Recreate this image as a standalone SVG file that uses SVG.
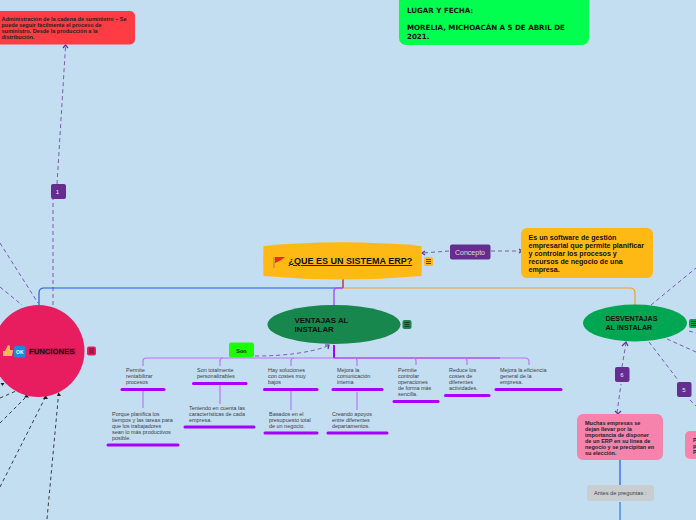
<svg xmlns="http://www.w3.org/2000/svg" width="696" height="520" viewBox="0 0 696 520">
<style>
text{font-family:"Liberation Sans",Arial,sans-serif}
.b{font-weight:bold;fill:#111;font-size:7.100px}
.b,.b text{font-family:"DejaVu Sans",sans-serif}
.s{font-size:5.450px;fill:#3a3f45}
.t{font-size:5.500px;font-weight:bold;fill:#222}
.dp{fill:none;stroke:#6a3c9c;stroke-width:1;stroke-dasharray:4 3;opacity:.8}
.dk{fill:none;stroke:#2a2a2a;stroke-width:.9;stroke-dasharray:3.500 3}
.lv{fill:none;stroke:#b57af5;stroke-width:1.200}
.bar{stroke:#a600ff;stroke-width:3;stroke-linecap:round}
.num{font-size:6px;fill:#eee;text-anchor:middle}
.ah{fill:none;stroke:#5f3295;stroke-width:1.200}
.ak{fill:#222}
.m{stroke:#222;stroke-width:.8;fill:none}
</style>
<rect width="696" height="520" fill="#c3ddf1"/>
<g id="connectors">
<path class="dp" d="M53 305V199M57 184L65.500 47"/>
<path class="ah" d="M63 48L65.500 45L68 48"/>
<path d="M39 305V293Q39 288 44 288H343" fill="none" stroke="#1b5ce8" stroke-width="1.200"/>
<path d="M343 288H630Q635 288 635 293V305" fill="none" stroke="#f0a030" stroke-width="1.200"/>
<path d="M343 279V288" stroke="#c4615a" stroke-width="2"/>
<path d="M334 305V291Q334 288 337 288H343" fill="none" stroke="#b057f0" stroke-width="1.500"/>
<path class="dp" d="M0 243L38 303M0 287L22 305"/>
<path class="dp" d="M449 251L423 253"/><path class="ah" d="M425 251L422 253L425 255"/>
<path class="dp" d="M491 251H521"/><path class="ah" d="M519 249L522 251L519 253"/>
<path class="dp" d="M255 356Q300 356 328 346"/><path class="ah" d="M325 345L329 345L328 349"/>
<path d="M334 345V358" stroke="#a600ff" stroke-width="2"/>
<path d="M143 366V361Q143 358 146 358H334" class="lv"/>
<path d="M334 358H500" stroke="#a600ff" stroke-width="1.200" fill="none"/>
<path d="M500 358H525Q529 358 529 362V365" class="lv"/>
<path class="lv" d="M220 366V361Q220 358 223 358M291 366V361Q291 358 294 358M357 366V361Q357 358 354 358M416 365V361Q416 358 413 358M467 365V361Q467 358 464 358"/>
<path class="lv" d="M143 391V408M220 385V404M291 391V410M357 392V410"/>
<path class="dp" d="M651 305L696 268M689 331L696 333M667 339L696 352M649 342L678 380M690 400L696 406"/>
<path class="dp" d="M617 413L621 384M622 367L626 343"/>
<path class="ah" d="M622 346L626 342L628 346M615 411L618 414L621 411"/>
<path d="M620 460V485" stroke="#1b5ce8" stroke-width="1.200"/><path d="M620 502V520" stroke="#1b5ce8" stroke-width="1"/>
<path class="dk" d="M0 398L16 391M0 423L25 398M0 487L45 398M47 519L58.500 395"/>
<path class="ak" d="M0.500 383L4.500 383L2.500 386ZM24 397.500L29 397.500L26.500 394ZM43 399L48 399L45.500 395ZM57 396L61 396L58.500 392Z"/>
</g>
<g id="node-lugar"><rect x="399" y="-10" width="190" height="55" rx="7" fill="#00ff4f"/>
<text x="407" y="13" class="b">LUGAR Y FECHA:</text>
<text x="407" y="30" class="b">MORELIA, MICHOACÁN A 5 DE ABRIL DE</text>
<text x="407" y="39" class="b">2021.</text></g>
<g id="node-admin"><rect x="-20" y="11" width="155" height="33.500" rx="5" fill="#ff3b44"/>
<text class="t" x="1.500" y="21">Administración de la cadena de suministro – Se</text>
<text class="t" x="1.500" y="27">puede seguir fácilmente el proceso de</text>
<text class="t" x="1.500" y="33">suministro. Desde la producción a la</text>
<text class="t" x="1.500" y="39">distribución.</text></g>
<g id="badge-1"><rect x="51" y="184" width="15" height="15" rx="2" fill="#662d91"/><text class="num" x="57.500" y="193.500">1</text></g>
<g id="node-root"><path d="M263.500 246Q342 238.500 421.500 246Q422 261 421.500 276Q342 283 263.500 276Q263 261 263.500 246Z" fill="#ffb914"/>
<path d="M274 257V268" stroke="#b08a50" stroke-width="1.200"/><path d="M275 257L285 257L281 260L275 263Z" fill="#f02818"/>
<text x="288.500" y="264" font-size="9" font-weight="bold" fill="#111" text-decoration="underline">¿QUE ES UN SISTEMA ERP?</text>
<rect x="424" y="257" width="9" height="9" rx="2" fill="#ffb914"/><path class="m" d="M426 259.500H431M426 261.500H431M426 263.500H431"/></g>
<g id="node-concepto"><rect x="450" y="244.500" width="40.500" height="15" rx="2" fill="#662d91"/><text x="455" y="254.500" font-size="7" fill="#ddd">Concepto</text></g>
<g id="node-def"><rect x="521" y="228" width="132" height="50" rx="6" fill="#ffb914"/>
<g font-size="7.100" font-weight="bold" fill="#111"><text x="528.500" y="240">Es un software de gestión</text><text x="528.500" y="248">empresarial que permite planificar</text><text x="528.500" y="256">y controlar los procesos y</text><text x="528.500" y="264">recursos de negocio de una</text><text x="528.500" y="272">empresa.</text></g></g>
<g id="node-funciones"><circle cx="38.500" cy="351" r="46" fill="#e71d5f"/>
<path d="M3 356V351H5L8 345L10 346V350H13L12 356Z" fill="#f7b955"/>
<rect x="14" y="346" width="11.500" height="11.500" rx="2" fill="#1e88e5"/><text x="19.800" y="354" font-size="5" font-weight="bold" fill="#fff" text-anchor="middle">OK</text>
<rect x="29" y="348" width="47" height="7" fill="#c41a50"/>
<text x="29" y="353.500" font-size="7.700" font-weight="bold" fill="#111">FUNCIONES</text>
<rect x="87" y="346.500" width="9" height="9" rx="2" fill="#e71d5f"/><path class="m" d="M89 349H94M89 351H94M89 353H94"/></g>
<g id="node-ventajas"><ellipse cx="334" cy="324.500" rx="66.500" ry="19.500" fill="#17874d"/>
<text x="294.500" y="323" font-size="7.900" font-weight="bold" fill="#111">VENTAJAS AL</text><text x="294.500" y="332" font-size="7.900" font-weight="bold" fill="#111">INSTALAR</text>
<rect x="402.500" y="320" width="9" height="9" rx="2" fill="#17874d"/><path class="m" d="M404.500 322.500H409.500M404.500 324.500H409.500M404.500 326.500H409.500"/></g>
<g id="node-desventajas"><ellipse cx="635" cy="323" rx="52" ry="18.500" fill="#00a651"/>
<text x="605.500" y="321" font-size="7.100" font-weight="bold" fill="#111">DESVENTAJAS</text><text x="605.500" y="330" font-size="7.100" font-weight="bold" fill="#111">AL INSTALAR</text>
<rect x="689" y="319" width="9" height="9" rx="2" fill="#00a651"/><path class="m" d="M691 321.500H696M691 323.500H696M691 325.500H696"/></g>
<g id="node-son"><rect x="229" y="342.500" width="25" height="15" rx="2" fill="#1aff00"/><text x="241.500" y="352.500" font-size="5.500" font-weight="bold" fill="#111" text-anchor="middle">Son</text></g>
<g id="v1"><text class="s" x="126" y="372">Permite</text><text class="s" x="126" y="378">rentabilizar</text><text class="s" x="126" y="384">procesos</text><path class="bar" d="M122 389.500H164"/></g>
<g id="v1b"><text class="s" x="112" y="416">Porque planifica los</text><text class="s" x="112" y="422">tiempos y las tareas para</text><text class="s" x="112" y="428">que los trabajadores</text><text class="s" x="112" y="434">sean lo más productivos</text><text class="s" x="112" y="440">posible.</text><path class="bar" d="M108 445H178"/></g>
<g id="v2"><text class="s" x="197" y="372">Son totalmente</text><text class="s" x="197" y="378">personalizables</text><path class="bar" d="M193.500 383.500H246"/></g>
<g id="v2b"><text class="s" x="189" y="410">Teniendo en cuenta las</text><text class="s" x="189" y="416">características de cada</text><text class="s" x="189" y="422">empresa.</text><path class="bar" d="M185 427H254"/></g>
<g id="v3"><text class="s" x="268" y="372">Hay soluciones</text><text class="s" x="268" y="378">con costes muy</text><text class="s" x="268" y="384">bajos</text><path class="bar" d="M264.500 389.500H317"/></g>
<g id="v3b"><text class="s" x="269" y="416">Basados en el</text><text class="s" x="269" y="422">presupuesto total</text><text class="s" x="269" y="428">de un negocio.</text><path class="bar" d="M265 433H317"/></g>
<g id="v4"><text class="s" x="337" y="372">Mejora la</text><text class="s" x="337" y="378">comunicación</text><text class="s" x="337" y="384">interna</text><path class="bar" d="M333 389.500H382"/></g>
<g id="v4b"><text class="s" x="332" y="416">Creando apoyos</text><text class="s" x="332" y="422">entre diferentes</text><text class="s" x="332" y="428">departamentos.</text><path class="bar" d="M328 433H387"/></g>
<g id="v5"><text class="s" x="398" y="372">Permite</text><text class="s" x="398" y="378">controlar</text><text class="s" x="398" y="384">operaciones</text><text class="s" x="398" y="390">de forma más</text><text class="s" x="398" y="396">sencilla.</text><path class="bar" d="M394 401.500H438"/></g>
<g id="v6"><text class="s" x="449" y="372">Reduce los</text><text class="s" x="449" y="378">costes de</text><text class="s" x="449" y="384">diferentes</text><text class="s" x="449" y="390">actividades.</text><path class="bar" d="M445.500 395.500H489"/></g>
<g id="v7"><text class="s" x="500" y="372">Mejora la eficiencia</text><text class="s" x="500" y="378">general de la</text><text class="s" x="500" y="384">empresa.</text><path class="bar" d="M496 389.500H561"/></g>
<g id="badge-6"><rect x="615" y="367" width="14.500" height="15" rx="2" fill="#662d91"/><text class="num" x="622" y="376.500">6</text></g>
<g id="badge-5"><rect x="677" y="382" width="14.500" height="15" rx="2" fill="#662d91"/><text class="num" x="684" y="391.500">5</text></g>
<g id="node-muchas"><rect x="577" y="414" width="86" height="46" rx="6" fill="#f782ac"/>
<text class="t" x="585" y="424.500">Muchas empresas se</text><text class="t" x="585" y="430.500">dejan llevar por la</text><text class="t" x="585" y="436.500">importancia de disponer</text><text class="t" x="585" y="442.500">de un ERP en su línea de</text><text class="t" x="585" y="448.500">negocio y se precipitan en</text><text class="t" x="585" y="454.500">su elección.</text></g>
<g id="node-p"><rect x="685" y="431" width="30" height="28" rx="5" fill="#f782ac"/>
<text class="t" x="693" y="441.500">P</text><text class="t" x="693" y="447.500">p</text><text class="t" x="693" y="453.500">P</text></g>
<g id="node-antes"><rect x="587" y="485" width="67" height="16" rx="3" fill="#c9cdd0"/><text x="594" y="495" font-size="5.700" fill="#3a3f45">Antes de  preguntas :</text></g>
</svg>
